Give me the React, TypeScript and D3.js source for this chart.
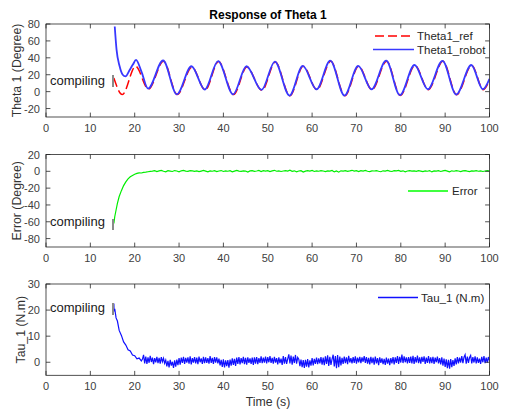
import React from 'react';
import * as d3 from 'd3';

const W = 505;
const H = 412;

const TIME_TICKS = [0, 10, 20, 30, 40, 50, 60, 70, 80, 90, 100];
const THETA_TICKS = [-20, 0, 20, 40, 60, 80];
const ERROR_TICKS = [-80, -60, -40, -20, 0, 20];
const TAU_TICKS = [0, 10, 20, 30];

// Theta1_ref (extrema)
const thetaRefTime = [15.3, 17.2, 20.2, 23.1, 26.5, 29.6, 32.9, 35.9, 38.9, 42.3, 45.3, 48.7, 51.7, 55.0, 58.0, 61.1, 64.2, 67.4, 70.5, 73.5, 76.8, 79.9, 83.2, 86.2, 89.5, 92.6, 96.0, 98.6, 100];
const thetaRefValue = [16, -3.5, 30, 3, 36, -3.5, 29, 2, 35.5, -3.5, 29, 1.5, 35, -5, 30, 2.3, 36, -5, 30, 2.3, 36, -4.5, 31, 2.3, 36, -3.7, 31, 2.3, 14];

// Theta1_robot
const thetaRobotTime = [15.5, 15.9, 16.6, 17.3, 17.9, 18.9, 19.6, 20.3, 21.5, 23.0, 26.4, 29.5, 32.8, 35.8, 38.8, 42.2, 45.2, 48.6, 51.6, 54.9, 57.9, 61.0, 64.1, 67.3, 70.4, 73.4, 76.7, 79.8, 83.1, 86.1, 89.4, 92.5, 95.9, 98.5, 100];
const thetaRobotValue = [77, 50, 30, 20, 18, 26, 32, 37.5, 24, 3.5, 36.8, -3.2, 30, 2.5, 36, -3.2, 30, 2, 35.5, -4.6, 30.5, 2.8, 36.6, -4.6, 30.5, 2.8, 36.6, -4.2, 31.5, 2.8, 36.5, -3.4, 31.5, 2.8, 15];

// Error transient
const errorStartTime = [15.3, 15.5, 15.8, 16.1, 16.5, 17.0, 17.5, 18.0, 18.5, 19.0, 19.5, 20.0, 20.5, 21.0, 21.5, 22.0, 22.5, 23.0, 23.5];
const errorStartValue = [-62, -54, -46, -38, -30, -23, -17, -12.5, -9, -6.5, -5, -3.5, -2.5, -1.8, -2, -1.2, -1, -0.5, 0];
// Error steady part, sampled every 0.5 s from t = 24
const errorSteadyT0 = 24;
const errorSteadyStep = 0.5;
const errorSteadyValue = [
  0.2, 0.8, -0.3, 0.5, 1.1, 0.1, -0.6, 0.7, 0.3, -0.2, 0.9, 0.4, -0.5, 0.6, 1.0, 0.2, -0.1, 0.8, 0.5, 0.0,
  0.6, -0.4, 0.3, 1.0, 0.2, -0.7, 0.5, 0.1, 0.8, -0.3, 0.4, 0.9, -0.2, 0.6, 0.1, 0.7, -0.5, 0.3, 1.1, 0.2,
  -0.1, 0.6, 0.3, -0.8, 0.5, 0.9, 0.0, 0.4, 1.0, -0.3, 0.7, 0.2, 0.8, -0.4, 0.5, 1.2, 0.1, 0.6, -0.2, 0.4,
  0.9, 0.3, 1.3, 0.0, 0.6, -0.5, 0.4, 0.8, -0.9, 0.2, 0.7, 0.3, 1.0, -0.2, 0.5, 0.1, 0.9, 0.4, -0.3, 0.6,
  0.2, 1.1, -0.7, 0.4, -1.0, 0.6, 0.3, 0.9, 0.0, 0.5, 1.2, 0.2, 0.7, -0.4, 0.8, 0.3, 1.0, 0.1, -0.3, 0.6,
  0.4, 0.9, 0.1, -0.5, 0.6, 0.2, 1.0, 0.3, -0.2, 0.7, 0.5, 1.1, 0.0, 0.6, -0.6, 0.4, 0.8, 0.2, 0.5, -0.1,
  0.7, 0.3, -0.4, 0.6, 0.1, 0.9, -0.7, 0.4, 0.2, 0.8, -0.2, 0.5, 1.0, 0.3, -0.5, 0.6, 0.1, 0.7, 0.4, -0.3,
  0.5, 0.9, 0.2, -0.4, 0.6, 0.3, 0.8, 0.1, 0.5, -0.2, 0.4, 0.7, 0.3,
];

// Tau transient
const tauStartTime = [15.3, 15.35, 15.5, 15.8, 16.1, 16.5, 17.0, 17.5, 18.0, 18.5, 19.0, 19.5, 20.0, 20.5, 21.0, 21.5, 21.75];
const tauStartValue = [22.5, 19.5, 20.5, 17, 15.8, 12.2, 10.3, 7.8, 6.6, 4.8, 4.3, 2.8, 2.5, 1.3, 1.6, 0.5, 1.2];
// Tau steady part, sampled every 0.25 s from t = 22
const tauSteadyT0 = 22;
const tauSteadyStep = 0.25;
const tauSteadyValue = [
  2.8, -0.4, 2.2, -0.6, 1.9, -0.2, 2.5, 0.1, 1.8, -0.7, 1.6, 0.0, 2.1, -0.3, 1.7, -0.5, 2.0, 0.2, 1.5, -0.4,
  0.8, -1.6, 0.5, -2.0, 0.9, -1.3, 0.2, -2.2, 0.7, -1.7, 1.0, -1.1, 1.6, -0.9, 1.8, -0.2, 2.1, -0.6, 1.7, -0.1,
  1.9, -0.5, 2.3, -0.8, 1.6, -0.1, 2.0, -0.4, 1.8, -0.7, 2.2, 0.0, 1.5, -0.6, 2.1, -0.3, 1.9, -0.2, 1.6, -0.5,
  2.4, -0.2, 1.7, -0.6, 2.0, -0.1, 1.9, -0.4, 1.4, -1.2, 0.9, -1.8, 1.1, -2.0, 0.7, -1.5, 0.8, -2.1, 1.0, -1.3,
  1.5, -1.0, 1.3, -1.4, 1.8, -0.6, 2.0, -0.8, 1.6, -0.3, 2.1, -0.7, 1.7, -0.9, 1.9, -0.2, 1.5, -0.6, 1.8, -1.0,
  1.9, -0.5, 2.0, -0.7, 1.6, -0.2, 2.3, -0.3, 1.8, -0.1, 2.2, -0.4, 2.0, 0.0, 2.4, -0.2, 1.7, -0.5, 2.1, -0.1,
  1.6, -0.8, 1.9, -0.3, 1.4, -1.0, 2.4, -0.5, 2.0, -0.6, 1.3, 3.0, -0.4, 2.6, -0.9, 2.2, -0.3, 2.8, -0.5, 1.9,
  1.2, -1.5, 1.0, -1.9, 0.8, -2.2, 0.9, -1.7, 1.2, -2.0, 0.7, -1.3, 1.6, -1.2, 1.3, -0.6, 1.8, -0.7, 1.5, -0.4,
  2.0, -0.9, 1.8, -1.1, 2.3, -0.6, 2.7, -1.4, 2.1, -1.0, 1.2, 2.9, -1.6, 2.4, -2.3, 2.8, -1.9, 2.2, -1.2, 1.7,
  -0.6, 2.2, -0.3, 1.9, -0.7, 2.5, -0.1, 1.6, -0.4, 2.0, -0.2, 2.3, -0.5, 1.8, 0.0, 2.1, -0.3, 1.9, 0.2, 2.4,
  -0.2, 2.0, -0.5, 1.7, -0.8, 2.1, -0.3, 1.8, -0.9, 2.2, -0.4, 1.6, -1.1, 1.9, -0.2, 1.5, -0.7, 1.3, -1.0, 1.8,
  -0.5, 1.4, -1.1, 1.6, -0.4, 2.0, -0.8, 1.9, -0.2, 2.4, -0.6, 2.1, -0.1, 2.9, -0.3, 2.3, 0.0, 1.9, -0.4, 2.0,
  -0.2, 2.2, -0.4, 2.5, -0.6, 2.0, -0.1, 2.6, -0.3, 1.9, -0.5, 2.1, 0.1, 2.3, -0.6, 1.8, -0.2, 2.4, -0.4, 1.9,
  -0.3, 2.1, -0.6, 1.8, 0.0, 2.2, -0.4, 1.6, -0.8, 1.9, -1.3, 1.4, -1.8, 1.1, -2.3, 0.9, -2.5, 1.2, -1.9, 0.8,
  -1.4, 1.5, -0.8, 2.0, -0.4, 1.8, -0.1, 2.4, -0.3, 1.9, 2.9, -0.5, 2.2, -0.2, 1.8, 2.6, -0.4, 2.0, -0.1, 2.3,
  -0.4, 1.9, -0.2, 1.4, -0.6, 2.1, 0.0, 2.4, -0.3, 1.8, -0.1, 2.0, 0.6,
];

const FONT = '"Liberation Sans", Arial, Helvetica, sans-serif';
const AXIS = '#262626';
const LEFT = 46;
const RIGHT = 489.5;
const TICK = 4.4;

type Pt = [number, number];

function zipPts(t: number[], v: number[]): Pt[] {
  return t.map((ti, i) => [ti, v[i]] as Pt);
}
function sampled(t0: number, step: number, v: number[]): Pt[] {
  return v.map((vi, i) => [t0 + i * step, vi] as Pt);
}

interface PanelProps {
  id: string;
  top: number;
  bottom: number;
  yDomain: [number, number];
  yTicks: number[];
  ylabel: string;
  ylabelX: number;
  children: (x: d3.ScaleLinear<number, number>, y: d3.ScaleLinear<number, number>) => React.ReactNode;
  legend: React.ReactNode;
  compilingY: number;
  barY: [number, number];
}

function Panel(p: PanelProps) {
  const x = d3.scaleLinear().domain([0, 100]).range([LEFT, RIGHT]);
  const y = d3.scaleLinear().domain(p.yDomain).range([p.bottom, p.top]);
  return (
    <g>
      <defs>
        <clipPath id={p.id}>
          <rect x={LEFT} y={p.top} width={RIGHT - LEFT} height={p.bottom - p.top} />
        </clipPath>
      </defs>
      <rect x={LEFT} y={p.top} width={RIGHT - LEFT} height={p.bottom - p.top} fill="#fff" />
      <g clipPath={`url(#${p.id})`}>{p.children(x, y)}</g>
      <rect x={LEFT} y={p.top} width={RIGHT - LEFT} height={p.bottom - p.top} fill="none" stroke={AXIS} strokeWidth={0.8} />
      {TIME_TICKS.map((t) => (
        <g key={'xt' + t}>
          <line x1={x(t)} x2={x(t)} y1={p.bottom} y2={p.bottom - TICK} stroke={AXIS} strokeWidth={0.8} />
          <line x1={x(t)} x2={x(t)} y1={p.top} y2={p.top + TICK} stroke={AXIS} strokeWidth={0.8} />
          <text x={x(t)} y={p.bottom + 14.5} textAnchor="middle" fontSize={11} fill="#404040" fontFamily={FONT}>{t}</text>
        </g>
      ))}
      {p.yTicks.map((v) => (
        <g key={'yt' + v}>
          <line x1={LEFT} x2={LEFT + TICK} y1={y(v)} y2={y(v)} stroke={AXIS} strokeWidth={0.8} />
          <line x1={RIGHT} x2={RIGHT - TICK} y1={y(v)} y2={y(v)} stroke={AXIS} strokeWidth={0.8} />
          <text x={LEFT - 6} y={y(v) + 4} textAnchor="end" fontSize={11} fill="#404040" fontFamily={FONT}>{v}</text>
        </g>
      ))}
      <text transform={`translate(${p.ylabelX},${(p.top + p.bottom) / 2}) rotate(-90)`} textAnchor="middle" fontSize={12.3} fill="#333" fontFamily={FONT}>{p.ylabel}</text>
      <text x={50} y={p.compilingY} fontSize={13} fill="#1a1a1a" fontFamily={FONT}>compiling</text>
      <rect x={112} y={p.barY[0]} width={2} height={p.barY[1] - p.barY[0]} fill="#8a8a8a" />
      {p.legend}
    </g>
  );
}

export default function App() {
  const monotone = (x: d3.ScaleLinear<number, number>, y: d3.ScaleLinear<number, number>) =>
    d3.line<Pt>().x((d) => x(d[0])).y((d) => y(d[1])).curve(d3.curveMonotoneX);
  const straight = (x: d3.ScaleLinear<number, number>, y: d3.ScaleLinear<number, number>) =>
    d3.line<Pt>().x((d) => x(d[0])).y((d) => y(d[1]));

  const refPts = zipPts(thetaRefTime, thetaRefValue);
  const robotPts = zipPts(thetaRobotTime, thetaRobotValue);
  const errPts = [...zipPts(errorStartTime, errorStartValue), ...sampled(errorSteadyT0, errorSteadyStep, errorSteadyValue)];
  const tauPts = [...zipPts(tauStartTime, tauStartValue), ...sampled(tauSteadyT0, tauSteadyStep, tauSteadyValue)];

  const legText = (x: number, y: number, s: string) => (
    <text x={x} y={y + 4} fontSize={11.5} fill="#262626" fontFamily={FONT}>{s}</text>
  );

  return (
    <svg width={W} height={H} style={{ position: 'absolute', left: 0, top: 0, background: '#fff' }}>
      <rect x={0} y={0} width={W} height={H} fill="#fff" />
      <text x={268} y={18.5} textAnchor="middle" fontSize={12} fontWeight="bold" fill="#000" fontFamily={FONT}>Response of Theta 1</text>
      <Panel
        id="c1" top={24} bottom={117} yDomain={[-30, 80]} yTicks={THETA_TICKS}
        ylabel="Theta 1 (Degree)" ylabelX={21} compilingY={85} barY={[75, 87]}
        legend={
          <g>
            <line x1={375} x2={414} y1={36} y2={36} stroke="#ff0000" strokeWidth={1.3} strokeDasharray="9,4" />
            {legText(417, 36, 'Theta1_ref')}
            <line x1={373} x2={414} y1={49.5} y2={49.5} stroke="#3838ff" strokeWidth={1.7} />
            {legText(417, 49.5, 'Theta1_robot')}
          </g>
        }
      >
        {(x, y) => (
          <g>
            <path d={monotone(x, y)(refPts) || ''} fill="none" stroke="#ff0000" strokeWidth={1.5} strokeDasharray="9,4" />
            <path d={monotone(x, y)(robotPts) || ''} fill="none" stroke="#3838ff" strokeWidth={1.8} />
          </g>
        )}
      </Panel>
      <Panel
        id="c2" top={154.5} bottom={247} yDomain={[-90, 20]} yTicks={ERROR_TICKS}
        ylabel="Error (Degree)" ylabelX={21} compilingY={226} barY={[219, 230]}
        legend={
          <g>
            <line x1={408} x2={448} y1={191} y2={191} stroke="#00ff00" strokeWidth={1.3} />
            {legText(452, 191, 'Error')}
          </g>
        }
      >
        {(x, y) => <path d={straight(x, y)(errPts) || ''} fill="none" stroke="#00ee00" strokeWidth={1.2} />}
      </Panel>
      <Panel
        id="c3" top={284} bottom={375.3} yDomain={[-5, 30]} yTicks={TAU_TICKS}
        ylabel="Tau_1 (N.m)" ylabelX={25} compilingY={312} barY={[303, 315]}
        legend={
          <g>
            <line x1={378} x2={418} y1={297.5} y2={297.5} stroke="#1010ff" strokeWidth={1.3} />
            {legText(421, 297.5, 'Tau_1 (N.m)')}
          </g>
        }
      >
        {(x, y) => <path d={straight(x, y)(tauPts) || ''} fill="none" stroke="#1010ff" strokeWidth={1.2} />}
      </Panel>
      <text x={268} y={406} textAnchor="middle" fontSize={12.3} fill="#333" fontFamily={FONT}>Time (s)</text>
    </svg>
  );
}
